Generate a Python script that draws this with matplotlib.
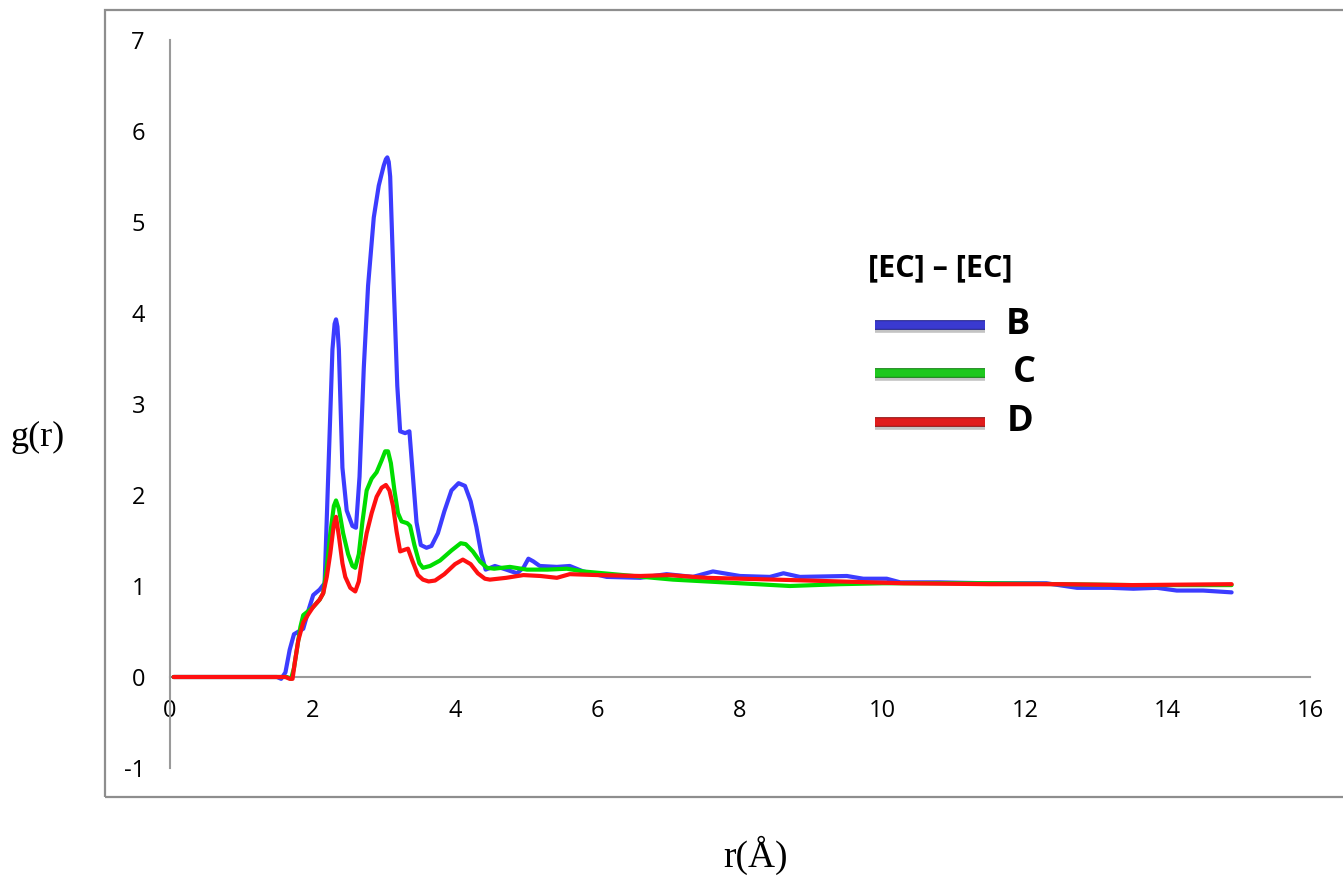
import matplotlib
matplotlib.use('Agg')
import matplotlib.pyplot as plt
import matplotlib.patheffects as pe
from matplotlib.lines import Line2D
from matplotlib.patches import Rectangle

plt.rcParams['axes.unicode_minus'] = False

# radial distribution functions g(r) for the EC-EC pair, systems B, C, D
r_B = [0.05, 1.50, 1.56, 1.62, 1.68, 1.74, 1.87, 1.95, 2.01, 2.10, 2.17, 2.22, 2.28, 2.31, 2.33, 2.35, 2.37,
       2.42, 2.48, 2.56, 2.61, 2.66, 2.72, 2.78, 2.86, 2.93, 3.00, 3.03, 3.05, 3.07, 3.09, 3.14, 3.19, 3.23,
       3.30, 3.36, 3.40, 3.46, 3.52, 3.60, 3.67, 3.76, 3.85, 3.95, 4.05, 4.14, 4.22, 4.30, 4.37,
       4.43, 4.56, 4.72, 4.87, 4.96, 5.03, 5.10, 5.19, 5.43, 5.61, 5.80, 6.13, 6.60, 6.97, 7.34,
       7.62, 8.00, 8.42, 8.61, 8.84, 9.50, 9.73, 10.06, 10.25, 10.80, 11.47, 11.88, 12.30, 12.73,
       13.20, 13.52, 13.85, 14.13, 14.50, 14.90]
g_B = [0.00, 0.00, -0.02, 0.05, 0.30, 0.47, 0.53, 0.75, 0.90, 0.96, 1.03, 2.20, 3.60, 3.88, 3.93, 3.85, 3.60,
       2.30, 1.83, 1.66, 1.64, 2.20, 3.40, 4.30, 5.05, 5.40, 5.62, 5.69, 5.71, 5.66, 5.50, 4.30, 3.20, 2.70,
       2.68, 2.70, 2.30, 1.70, 1.45, 1.42, 1.44, 1.58, 1.82, 2.05, 2.13, 2.10, 1.93, 1.65, 1.35,
       1.18, 1.22, 1.18, 1.14, 1.20, 1.30, 1.27, 1.22, 1.21, 1.22, 1.16, 1.10, 1.09, 1.13, 1.10,
       1.16, 1.11, 1.10, 1.14, 1.10, 1.11, 1.08, 1.08, 1.04, 1.04, 1.03, 1.03, 1.03, 0.98,
       0.98, 0.97, 0.98, 0.95, 0.95, 0.93]

r_C = [0.05, 1.64, 1.70, 1.74, 1.78, 1.83, 1.87, 1.95, 2.01, 2.10, 2.15, 2.20, 2.25, 2.30, 2.33,
       2.37, 2.43, 2.50, 2.56, 2.60, 2.65, 2.70, 2.76, 2.83, 2.90, 2.97, 3.02, 3.06, 3.10, 3.15,
       3.20, 3.25, 3.33, 3.37, 3.43, 3.50, 3.55, 3.65, 3.79, 3.95, 4.08, 4.15, 4.25, 4.35, 4.45,
       4.55, 4.77, 5.01, 5.30, 5.57, 5.80, 6.36, 7.06, 7.53, 8.24, 8.70, 9.40, 10.00, 10.70,
       11.50, 12.50, 13.50, 14.90]
g_C = [0.00, 0.00, -0.02, 0.10, 0.30, 0.55, 0.68, 0.73, 0.77, 0.85, 0.92, 1.20, 1.58, 1.88, 1.94,
       1.85, 1.58, 1.35, 1.22, 1.20, 1.35, 1.70, 2.05, 2.18, 2.25, 2.38, 2.48, 2.48, 2.35, 2.05,
       1.80, 1.71, 1.69, 1.66, 1.45, 1.25, 1.20, 1.22, 1.28, 1.39, 1.47, 1.46, 1.38, 1.27, 1.20,
       1.19, 1.21, 1.18, 1.18, 1.19, 1.16, 1.12, 1.07, 1.05, 1.02, 1.00, 1.02, 1.03, 1.03,
       1.03, 1.02, 1.01, 1.01]

r_D = [0.05, 1.62, 1.68, 1.72, 1.75, 1.80, 1.87, 1.95, 2.01, 2.10, 2.15, 2.20, 2.25, 2.30, 2.33,
       2.37, 2.42, 2.46, 2.53, 2.60, 2.65, 2.70, 2.76, 2.83, 2.90, 2.97, 3.03, 3.08, 3.13, 3.18,
       3.23, 3.30, 3.34, 3.40, 3.48, 3.55, 3.63, 3.72, 3.85, 4.00, 4.11, 4.22, 4.32, 4.42, 4.49,
       4.72, 4.96, 5.20, 5.43, 5.61, 6.00, 6.60, 7.00, 7.53, 8.50, 9.40, 10.30, 11.50, 12.50,
       13.50, 14.90]
g_D = [0.00, 0.00, -0.02, -0.02, 0.15, 0.40, 0.60, 0.70, 0.77, 0.85, 0.92, 1.10, 1.36, 1.68, 1.76,
       1.55, 1.25, 1.10, 0.98, 0.94, 1.05, 1.32, 1.58, 1.80, 1.98, 2.08, 2.11, 2.05, 1.88, 1.60,
       1.38, 1.40, 1.41, 1.28, 1.12, 1.07, 1.05, 1.06, 1.13, 1.24, 1.29, 1.24, 1.14, 1.08, 1.07,
       1.09, 1.12, 1.11, 1.09, 1.13, 1.12, 1.11, 1.12, 1.09, 1.07, 1.05, 1.03, 1.02, 1.02,
       1.01, 1.02]

labels = ['B', 'C', 'D']
line_colors = ['#3c3cff', '#00dd00', '#ff1010']
key_colors = ['#3a3ad0', '#1ec81e', '#e01c1c']
key_edges = ['#20208a', '#108010', '#901010']
x_ticks = [0, 2, 4, 6, 8, 10, 12, 14, 16]
y_ticks = [-1, 0, 1, 2, 3, 4, 5, 6, 7]

W, H = 1343, 880
fig = plt.figure(figsize=(W / 100, H / 100), dpi=100)

def fx(px):
    return px / W

def fy(py):
    return 1 - py / H

# outer chart frame
fig.patches.append(Rectangle((fx(105), fy(797)), fx(1360) - fx(105), fy(10) - fy(797),
                             transform=fig.transFigure, fill=False, ec='#8e8e8e', lw=1.6))

ax = fig.add_axes([fx(170), fy(768), fx(1310) - fx(170), fy(40) - fy(768)])
ax.set_xlim(0, 16)
ax.set_ylim(-1, 7)
ax.patch.set_visible(False)

for r, g, c in zip([r_B, r_C, r_D], [g_B, g_C, g_D], line_colors):
    ax.plot(r, g, color=c, lw=3.0, solid_joinstyle='round', solid_capstyle='round', zorder=3)

for s in ['top', 'right']:
    ax.spines[s].set_visible(False)
ax.spines['bottom'].set_position(('data', 0))
ax.spines['left'].set_color('#9a9a9a')
ax.spines['bottom'].set_color('#9a9a9a')
ax.spines['left'].set_linewidth(1.5)
ax.spines['bottom'].set_linewidth(1.5)

ax.set_xticks(x_ticks)
ax.set_yticks(y_ticks)
ax.tick_params(length=0, labelsize=17)
ax.tick_params(axis='x', pad=16)
ax.tick_params(axis='y', pad=18)
for t in ax.get_xticklabels() + ax.get_yticklabels():
    t.set_fontfamily('Open Sans')

fig.text(fx(38), fy(437), 'g(r)', family='Liberation Serif', fontsize=26,
         ha='center', va='center')
fig.text(fx(755), fy(855), 'r(Å)', family='Liberation Serif', fontsize=27,
         ha='center', va='center')

# legend drawn by hand: title, shaded keys and bold labels
fig.text(fx(940), fy(268), '[EC] – [EC]', family='Open Sans', fontweight='bold',
         fontsize=22, ha='center', va='center')
key_y = [325, 373, 422]
label_x = [1018, 1024, 1020]
for yy, lx, c, ec, lab in zip(key_y, label_x, key_colors, key_edges, labels):
    ln = Line2D([fx(875), fx(985)], [fy(yy), fy(yy)], transform=fig.transFigure,
                color=c, lw=5.5, solid_capstyle='butt',
                path_effects=[pe.SimpleLineShadow(offset=(0, -3), shadow_color='#555555', alpha=0.35),
                              pe.Stroke(linewidth=7, foreground=ec),
                              pe.Normal()])
    fig.lines.append(ln)
    fig.text(fx(lx), fy(yy), lab, family='Open Sans', fontweight='bold',
             fontsize=26, ha='center', va='center')

fig.savefig('out.png', dpi=100)
